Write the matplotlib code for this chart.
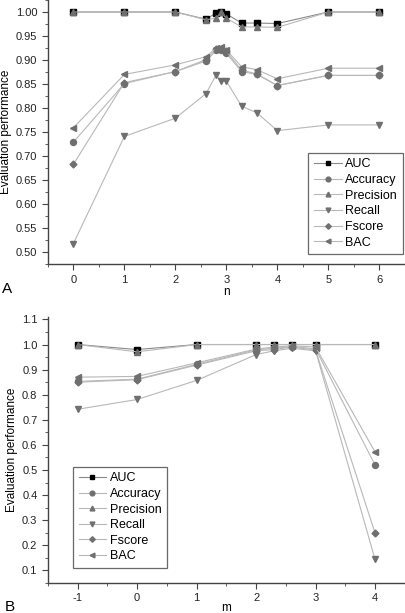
import matplotlib
matplotlib.use("Agg")
import matplotlib.pyplot as plt
from matplotlib.ticker import MultipleLocator

plt.rcParams["font.family"] = ["Liberation Sans", "DejaVu Sans"]
plt.rcParams["axes.unicode_minus"] = False

SERIES = ["AUC", "Accuracy", "Precision", "Recall", "Fscore", "BAC"]
MARKERS = {"AUC": "s", "Accuracy": "o", "Precision": "^",
           "Recall": "v", "Fscore": "D", "BAC": "<"}

# panel A: performance vs n
n_vals = [0, 1, 2, 2.6, 2.8, 2.9, 3.0, 3.3, 3.6, 4, 5, 6]
a_auc = [1.0, 1.0, 1.0, 0.985, 0.998, 1.0, 0.996, 0.977, 0.977, 0.976, 1.0, 1.0]
a_acc = [0.729, 0.851, 0.876, 0.898, 0.920, 0.921, 0.914, 0.876, 0.870, 0.847, 0.868, 0.868]
a_prec = [1.0, 1.0, 1.0, 0.984, 0.987, 1.0, 0.987, 0.969, 0.969, 0.968, 1.0, 1.0]
a_rec = [0.518, 0.741, 0.779, 0.830, 0.869, 0.856, 0.856, 0.804, 0.790, 0.753, 0.765, 0.765]
a_fs = [0.683, 0.853, 0.876, 0.901, 0.922, 0.923, 0.918, 0.879, 0.871, 0.847, 0.868, 0.868]
a_bac = [0.759, 0.870, 0.890, 0.907, 0.925, 0.927, 0.921, 0.886, 0.880, 0.861, 0.883, 0.883]

# panel B: performance vs m
m_vals = [-1, 0, 1, 2, 2.3, 2.6, 3, 4]
b_auc = [1.0, 0.980, 1.0, 1.0, 1.0, 1.0, 1.0, 1.0]
b_acc = [0.853, 0.862, 0.921, 0.979, 0.985, 0.992, 0.983, 0.520]
b_prec = [1.0, 0.971, 1.0, 1.0, 1.0, 1.0, 1.0, 1.0]
b_rec = [0.742, 0.781, 0.857, 0.960, 0.975, 0.985, 0.975, 0.144]
b_fs = [0.850, 0.860, 0.918, 0.975, 0.980, 0.990, 0.978, 0.249]
b_bac = [0.870, 0.873, 0.927, 0.982, 0.990, 0.995, 0.990, 0.572]

panel_a = dict(zip(SERIES, [a_auc, a_acc, a_prec, a_rec, a_fs, a_bac]))
panel_b = dict(zip(SERIES, [b_auc, b_acc, b_prec, b_rec, b_fs, b_bac]))


def draw(ax, xs, data, loc, anchor):
    for name in SERIES:
        mcol = "black" if name == "AUC" else "#6f6f6f"
        lcol = "#8a8a8a" if name == "AUC" else "#b8b8b8"
        ms = 3.5 if name == "Fscore" else 4.3
        ax.plot(xs, data[name], color=lcol, lw=0.8, marker=MARKERS[name],
                ms=ms, mfc=mcol, mec=mcol, label=name)
    for s in ("top", "right"):
        ax.spines[s].set_visible(False)
    for s in ("left", "bottom"):
        ax.spines[s].set_color("#444444")
        ax.spines[s].set_linewidth(1.0)
    ax.tick_params(which="both", direction="out", colors="#444444",
                   labelsize=8, labelcolor="#222222")
    ax.tick_params(which="major", length=4)
    ax.tick_params(which="minor", length=2.5)
    ax.set_ylabel("Evaluation performance", fontsize=8.5, labelpad=3)
    leg = ax.legend(loc=loc, bbox_to_anchor=anchor, fontsize=9, frameon=True,
                    fancybox=False, edgecolor="#444444", handlelength=2.2,
                    handletextpad=0.3, labelspacing=0.29, borderpad=0.45,
                    borderaxespad=0, markerscale=0.8)
    leg.get_frame().set_linewidth(0.9)


fig = plt.figure(figsize=(4.06, 6.13), dpi=100)

ax1 = fig.add_axes([0.118, 0.569, 0.879, 0.431])
draw(ax1, n_vals, panel_a, "lower right", (0.994, 0.038))
ax1.set_xlim(-0.5, 6.5)
ax1.set_ylim(0.475, 1.025)
ax1.xaxis.set_major_locator(MultipleLocator(1))
ax1.xaxis.set_minor_locator(MultipleLocator(0.5))
ax1.yaxis.set_major_locator(MultipleLocator(0.05))
ax1.yaxis.set_minor_locator(MultipleLocator(0.025))
ax1.yaxis.set_major_formatter(plt.FormatStrFormatter("%.2f"))
ax1.set_xlabel("n", fontsize=8.5, labelpad=1)

ax2 = fig.add_axes([0.118, 0.049, 0.879, 0.434])
draw(ax2, m_vals, panel_b, "lower left", (0.07, 0.056))
ax2.set_xlim(-1.5, 4.5)
ax2.set_ylim(0.05, 1.11)
ax2.xaxis.set_major_locator(MultipleLocator(1))
ax2.xaxis.set_minor_locator(MultipleLocator(0.5))
ax2.yaxis.set_major_locator(MultipleLocator(0.1))
ax2.yaxis.set_minor_locator(MultipleLocator(0.05))
ax2.yaxis.set_major_formatter(plt.FormatStrFormatter("%.1f"))
ax2.set_xlabel("m", fontsize=8.5, labelpad=-1)

fig.text(0.005, 0.522, "A", fontsize=11)
fig.text(0.012, 0.003, "B", fontsize=11)

fig.savefig("out.png", dpi=100)
